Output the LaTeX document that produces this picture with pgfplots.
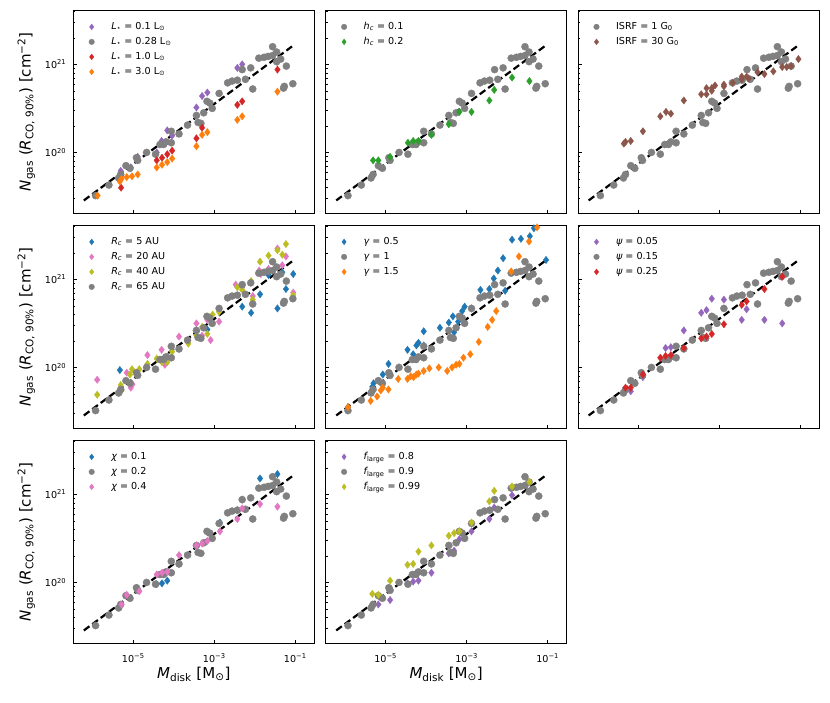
\documentclass[border=0pt]{standalone}
\usepackage{fontspec}
\setmainfont{DejaVu Sans}
\usepackage{pgfplots}
\usepackage{pgfplotstable}
\pgfplotsset{compat=1.18}
\usepgfplotslibrary{groupplots}

\definecolor{mgray}{HTML}{808080}
\definecolor{tpurple}{HTML}{9467BD}
\definecolor{tred}{HTML}{D62728}
\definecolor{torange}{HTML}{FF7F0E}
\definecolor{tgreen}{HTML}{2CA02C}
\definecolor{tbrown}{HTML}{8C564B}
\definecolor{tblue}{HTML}{1F77B4}
\definecolor{tpink}{HTML}{E377C2}
\definecolor{tolive}{HTML}{BCBD22}

% reference set (grey circles), same in every panel
\pgfplotstableread{
x y
1.175e-6 3.236e19
2.512e-6 4.266e19
4.365e-6 5.129e19
4.898e-6 5.623e19
6.607e-6 7.079e19
8.318e-6 6.607e19
1.202e-5 8.710e19
1.288e-5 8.128e19
2.138e-5 1.000e20
3.548e-5 9.550e19
4.571e-5 1.230e20
5.623e-5 1.230e20
6.457e-5 1.318e20
8.710e-5 1.288e20
8.710e-5 1.738e20
1.349e-4 1.622e20
2.188e-4 2.042e20
3.631e-4 2.630e20
3.981e-4 2.188e20
4.677e-4 2.138e20
5.495e-4 2.818e20
6.607e-4 3.802e20
7.762e-4 3.631e20
8.913e-4 3.162e20
1.318e-3 4.677e20
2.138e-3 6.166e20
2.754e-3 6.457e20
3.715e-3 6.607e20
4.898e-3 8.710e20
5.888e-3 6.761e20
7.943e-3 9.120e20
8.913e-3 5.248e20
1.259e-2 1.175e21
1.698e-2 1.202e21
2.138e-2 1.230e21
2.754e-2 1.585e21
2.754e-2 1.259e21
3.467e-2 1.380e21
3.467e-2 1.072e21
4.365e-2 1.148e21
6.026e-2 9.550e20
5.370e-2 5.623e20
5.129e-2 5.370e20
8.710e-2 6.026e20
}\tG

% panel 1: L_star
\pgfplotstableread{
x y
4.898e-6 6.166e19
8.710e-6 6.761e19
1.288e-5 8.913e19
3.802e-5 1.000e20
5.012e-5 1.349e20
6.918e-5 1.778e20
9.120e-5 1.549e20
3.631e-4 3.236e20
5.012e-4 4.365e20
6.761e-4 4.786e20
3.715e-3 9.120e20
4.898e-3 1.000e21
3.631e-2 1.072e21
}\tLa
\pgfplotstableread{
x y
5.012e-6 3.981e19
3.802e-5 8.128e19
5.129e-5 8.710e19
6.918e-5 9.550e19
9.120e-5 1.047e20
3.631e-4 1.445e20
5.012e-4 1.905e20
3.715e-3 3.467e20
4.898e-3 3.802e20
3.631e-2 8.710e20
}\tLc
\pgfplotstableread{
x y
1.318e-6 3.236e19
4.677e-6 4.677e19
5.129e-6 5.012e19
6.918e-6 5.248e19
9.333e-6 5.370e19
1.288e-5 5.623e19
3.802e-5 6.761e19
5.129e-5 7.244e19
6.918e-5 7.762e19
9.120e-5 8.511e19
3.631e-4 1.175e20
5.012e-4 1.585e20
6.761e-4 1.698e20
3.715e-3 2.344e20
4.898e-3 2.570e20
3.631e-2 4.898e20
}\tLd

% panel 2: h_c = 0.2
\pgfplotstableread{
x y
4.898e-6 8.128e19
6.607e-6 8.128e19
1.288e-5 8.913e19
3.548e-5 1.288e20
4.786e-5 1.349e20
6.457e-5 1.349e20
1.349e-4 1.585e20
3.631e-4 2.089e20
6.607e-4 2.884e20
1.318e-3 2.884e20
3.631e-3 3.890e20
4.786e-3 5.129e20
1.318e-2 7.079e20
3.548e-2 6.457e20
}\tH

% panel 3: ISRF = 30
\pgfplotstableread{
x y
4.467e-6 1.259e20
4.898e-6 1.318e20
6.607e-6 1.349e20
1.318e-5 1.738e20
3.548e-5 2.570e20
4.898e-5 2.884e20
6.457e-5 2.754e20
1.349e-4 3.890e20
3.631e-4 4.571e20
4.898e-4 5.370e20
4.898e-4 4.571e20
6.607e-4 5.012e20
6.607e-4 5.370e20
7.943e-4 5.754e20
1.318e-3 5.888e20
1.318e-3 5.623e20
2.188e-3 6.166e20
3.631e-3 7.244e20
3.631e-3 6.761e20
4.786e-3 7.244e20
5.370e-3 6.918e20
8.913e-3 8.128e20
1.318e-2 7.762e20
2.188e-2 8.318e20
3.631e-2 9.333e20
4.677e-2 9.333e20
6.026e-2 9.550e20
9.120e-2 1.148e21
}\tI

% panel 4: R_c
\pgfplotstableread{
x y
4.677e-6 9.333e19
6.761e-4 2.692e20
4.898e-3 4.898e20
8.128e-3 4.169e20
1.349e-2 6.761e20
2.188e-2 1.122e21
3.631e-2 4.677e20
4.786e-2 1.202e21
5.888e-2 7.762e20
8.913e-2 1.148e21
}\tRa
\pgfplotstableread{
x y
1.288e-6 7.244e19
4.898e-6 5.370e19
6.918e-6 8.710e19
8.710e-6 5.888e19
9.550e-6 6.457e19
1.259e-5 8.318e19
2.239e-5 1.380e20
5.012e-5 1.585e20
6.026e-5 1.072e20
6.918e-5 1.318e20
1.349e-4 2.239e20
3.631e-4 3.162e20
5.012e-4 2.291e20
6.761e-4 3.467e20
8.128e-4 2.042e20
1.318e-3 3.311e20
3.388e-3 8.710e20
4.898e-3 8.128e20
8.913e-3 6.457e20
1.288e-2 1.259e21
1.413e-2 1.148e21
2.188e-2 1.318e21
3.631e-2 2.239e21
4.786e-2 1.445e21
5.888e-2 1.820e21
8.913e-2 7.079e20
}\tRb
\pgfplotstableread{
x y
1.288e-6 4.898e19
4.898e-6 6.310e19
5.129e-6 5.495e19
8.318e-6 8.318e19
9.333e-6 9.550e19
1.413e-5 9.550e19
2.239e-5 1.096e20
3.802e-5 1.259e20
5.129e-5 1.148e20
6.918e-5 1.148e20
9.120e-5 1.514e20
1.349e-4 1.622e20
2.291e-4 1.862e20
3.631e-4 2.291e20
5.012e-4 2.884e20
6.761e-4 2.399e20
9.120e-4 3.981e20
1.318e-3 4.266e20
3.715e-3 8.128e20
4.898e-3 7.586e20
8.913e-3 5.888e20
8.128e-3 9.550e20
1.349e-2 1.585e21
2.188e-2 1.862e21
3.631e-2 2.138e21
4.786e-2 1.905e21
5.888e-2 2.512e21
8.913e-2 6.607e20
}\tRc

% panel 5: gamma
\pgfplotstableread{
x y
1.175e-6 3.548e19
4.677e-6 6.026e19
5.012e-6 6.607e19
8.511e-6 8.318e19
1.175e-5 1.096e20
2.138e-5 1.000e20
3.467e-5 1.585e20
4.786e-5 1.413e20
5.754e-5 1.778e20
6.457e-5 1.905e20
8.710e-5 1.778e20
8.710e-5 2.570e20
2.188e-4 2.818e20
3.631e-4 3.236e20
4.571e-4 3.802e20
4.898e-4 2.512e20
6.166e-4 3.311e20
7.762e-4 4.365e20
8.913e-4 4.898e20
1.318e-3 4.677e20
2.188e-3 7.586e20
3.631e-3 7.762e20
4.677e-3 1.023e21
5.888e-3 1.259e21
7.943e-3 1.738e21
8.913e-3 7.413e20
1.318e-2 2.818e21
2.188e-2 2.884e21
3.631e-2 3.090e21
4.571e-2 3.802e21
9.120e-2 1.660e21
}\tGa
\pgfplotstableread{
x y
1.175e-6 3.548e19
4.266e-6 4.169e19
6.166e-6 4.677e19
7.586e-6 5.495e19
8.511e-6 5.888e19
1.175e-5 5.623e19
2.042e-5 7.413e19
3.467e-5 7.413e19
4.169e-5 7.943e19
4.898e-5 7.762e19
5.754e-5 8.318e19
6.457e-5 8.511e19
8.710e-5 9.120e19
1.202e-4 9.772e19
2.042e-4 1.000e20
3.311e-4 9.120e19
4.365e-4 1.000e20
5.495e-4 1.072e20
6.607e-4 1.096e20
8.318e-4 1.288e20
1.230e-3 1.413e20
1.995e-3 1.950e20
3.311e-3 2.884e20
4.266e-3 3.467e20
5.370e-3 4.365e20
1.259e-2 1.230e21
1.950e-2 1.820e21
3.467e-2 2.692e21
5.495e-2 3.890e21
8.318e-2 4.467e21
}\tGc

% panel 6: psi
\pgfplotstableread{
x y
4.898e-6 5.370e19
6.607e-6 5.370e19
1.318e-5 7.762e19
4.786e-5 1.660e20
6.457e-5 1.698e20
1.349e-4 2.630e20
3.631e-4 4.169e20
4.898e-4 4.467e20
6.607e-4 6.026e20
1.318e-3 5.888e20
3.631e-3 3.467e20
4.786e-3 4.571e20
1.318e-2 3.467e20
3.631e-2 3.162e20
}\tPa
\pgfplotstableread{
x y
4.898e-6 5.888e19
6.607e-6 5.888e19
1.318e-5 8.318e19
3.548e-5 1.288e20
4.786e-5 1.349e20
6.457e-5 1.380e20
1.349e-4 1.660e20
3.631e-4 2.138e20
4.898e-4 2.239e20
6.607e-4 2.399e20
1.318e-3 3.090e20
3.631e-3 5.129e20
4.786e-3 5.623e20
1.318e-2 7.762e20
3.631e-2 1.072e21
}\tPc

% panel 7: chi
\pgfplotstableread{
x y
3.802e-5 9.550e19
5.129e-5 9.772e19
6.918e-5 1.047e20
1.349e-4 1.622e20
6.761e-4 3.715e20
1.380e-3 4.786e20
3.715e-3 6.607e20
4.898e-3 8.710e20
1.349e-2 1.514e21
3.631e-2 1.698e21
}\tCa
\pgfplotstableread{
x y
5.129e-6 5.623e19
6.918e-6 7.244e19
1.413e-5 7.943e19
3.802e-5 1.230e20
5.129e-5 1.288e20
6.918e-5 1.318e20
1.349e-4 2.042e20
3.631e-4 2.630e20
5.012e-4 2.754e20
6.761e-4 2.951e20
1.380e-3 3.802e20
3.715e-3 5.248e20
4.898e-3 6.918e20
1.349e-2 7.762e20
3.631e-2 7.244e20
}\tCc

% panel 8: f_large
\pgfplotstableread{
x y
4.677e-6 5.623e19
6.607e-6 5.623e19
1.288e-5 6.310e19
3.467e-5 9.772e19
4.786e-5 1.023e20
6.457e-5 1.047e20
1.349e-4 1.288e20
3.631e-4 2.138e20
4.898e-4 2.291e20
6.607e-4 3.090e20
1.318e-3 3.802e20
3.631e-3 5.248e20
4.786e-3 7.079e20
1.318e-2 9.772e20
3.548e-2 1.096e21
}\tFa
\pgfplotstableread{
x y
4.677e-6 7.413e19
6.607e-6 7.244e19
1.288e-5 1.047e20
3.467e-5 1.585e20
4.786e-5 1.622e20
6.457e-5 2.239e20
1.349e-4 2.630e20
3.631e-4 3.388e20
4.898e-4 3.631e20
6.607e-4 3.802e20
1.318e-3 4.786e20
3.631e-3 8.318e20
4.786e-3 1.096e21
1.318e-2 1.230e21
3.548e-2 1.380e21
}\tFc

\pgfplotsset{
  gpt/.style={only marks, mark=*, mark size=3.6pt, color=mgray,
    mark options={fill=mgray, draw=mgray, line width=0.3pt}},
  dia/.style={only marks, mark=diamond*, mark size=3.7pt, color=#1,
    mark options={fill=#1, draw=#1, line width=0.3pt}},
  fitline/.style={black, line width=2.2pt, dash pattern=on 7pt off 3.5pt, forget plot},
}

\newcommand{\fitl}{\addplot[fitline] coordinates {(6.026e-7,2.851e19) (9.772e-2,1.687e21)};}
\newcommand{\refset}{\addplot[gpt] table[x=x,y=y] {\tG};}

\begin{document}
\begin{tikzpicture}
\begin{groupplot}[
  group style={group size=3 by 3, horizontal sep=11.4pt, vertical sep=11.5pt,
    xticklabels at=edge bottom, yticklabels at=edge left,
    xlabels at=edge bottom, ylabels at=edge left},
  scale only axis, width=241pt, height=203.5pt,
  xmode=log, ymode=log,
  xmin=3.311e-7, xmax=2.951e-1, ymin=2.028e19, ymax=4.140e21,
  xtick={1e-5,1e-3,1e-1},
  xticklabels={10\textsuperscript{−5},10\textsuperscript{−3},10\textsuperscript{−1}},
  ytick={1e20,1e21},
  yticklabels={10\textsuperscript{20},10\textsuperscript{21}},
  xminorticks=false,
  minor ytick={3e19,4e19,5e19,6e19,7e19,8e19,9e19,2e20,3e20,4e20,5e20,6e20,7e20,8e20,9e20,2e21,3e21,4e21},
  tick align=inside, xtick pos=bottom, ytick pos=left,
  major tick length=3.5pt, minor tick length=2pt,
  tick style={black, line width=0.8pt},
  minor tick style={black, line width=0.6pt},
  axis line style={line width=0.9pt},
  tick label style={font=\fontsize{9.6}{11}\selectfont},
  xticklabel style={anchor=base, yshift=-19pt},
  yticklabel style={anchor=east, xshift=-3.5pt},
  xlabel={{\itshape M}\textsubscript{disk} [M\textsubscript{⊙}]},
  ylabel={{\itshape N}\textsubscript{gas} ({\itshape R}\textsubscript{CO, 90\%}) [cm\textsuperscript{−2}]},
  every axis x label/.style={at={(axis description cs:0.5,0)}, anchor=base, yshift=-35pt, font=\fontsize{15}{18}\selectfont},
  every axis y label/.style={at={(axis description cs:0,0.5)}, xshift=-47pt, rotate=90, anchor=center, font=\fontsize{15}{18}\selectfont},
  legend style={at={(0,1)}, anchor=north west, xshift=8.4pt, yshift=-9.2pt,
    draw=none, fill=none, inner sep=0pt,
    nodes={inner sep=2pt, text height=8pt, text depth=3pt},
    font=\fontsize{9.6}{11}\selectfont, /tikz/column sep=0pt, /tikz/row sep=0pt},
  legend cell align=left,
  legend image code/.code={\path (0pt,0pt) (27pt,0pt); \draw[#1, every mark/.append style={scale=0.78}] plot coordinates {(9.6pt,0pt)};},
]
% ---- panel 1
\nextgroupplot
\addplot[dia=tpurple] table[x=x,y=y] {\tLa}; \addlegendentry{{\itshape L}\textsubscript{⋆} = 0.1 L\textsubscript{⊙}}
\refset \addlegendentry{{\itshape L}\textsubscript{⋆} = 0.28 L\textsubscript{⊙}}
\addplot[dia=tred] table[x=x,y=y] {\tLc}; \addlegendentry{{\itshape L}\textsubscript{⋆} = 1.0 L\textsubscript{⊙}}
\addplot[dia=torange] table[x=x,y=y] {\tLd}; \addlegendentry{{\itshape L}\textsubscript{⋆} = 3.0 L\textsubscript{⊙}}
\fitl
% ---- panel 2
\nextgroupplot
\refset \addlegendentry{{\itshape h}\textsubscript{\itshape c} = 0.1}
\addplot[dia=tgreen] table[x=x,y=y] {\tH}; \addlegendentry{{\itshape h}\textsubscript{\itshape c} = 0.2}
\fitl
% ---- panel 3
\nextgroupplot
\refset \addlegendentry{ISRF = 1 G\textsubscript{0}}
\addplot[dia=tbrown] table[x=x,y=y] {\tI}; \addlegendentry{ISRF = 30 G\textsubscript{0}}
\fitl
% ---- panel 4
\nextgroupplot
\addplot[dia=tblue] table[x=x,y=y] {\tRa}; \addlegendentry{{\itshape R}\textsubscript{\itshape c} = 5 AU}
\addplot[dia=tpink] table[x=x,y=y] {\tRb}; \addlegendentry{{\itshape R}\textsubscript{\itshape c} = 20 AU}
\addplot[dia=tolive] table[x=x,y=y] {\tRc}; \addlegendentry{{\itshape R}\textsubscript{\itshape c} = 40 AU}
\refset \addlegendentry{{\itshape R}\textsubscript{\itshape c} = 65 AU}
\fitl
% ---- panel 5
\nextgroupplot
\addplot[dia=tblue] table[x=x,y=y] {\tGa}; \addlegendentry{{\itshape γ} = 0.5}
\refset \addlegendentry{{\itshape γ} = 1}
\addplot[dia=torange] table[x=x,y=y] {\tGc}; \addlegendentry{{\itshape γ} = 1.5}
\fitl
% ---- panel 6
\nextgroupplot
\addplot[dia=tpurple] table[x=x,y=y] {\tPa}; \addlegendentry{{\itshape ψ} = 0.05}
\refset \addlegendentry{{\itshape ψ} = 0.15}
\addplot[dia=tred] table[x=x,y=y] {\tPc}; \addlegendentry{{\itshape ψ} = 0.25}
\fitl
% ---- panel 7
\nextgroupplot
\addplot[dia=tblue] table[x=x,y=y] {\tCa}; \addlegendentry{{\itshape χ} = 0.1}
\refset \addlegendentry{{\itshape χ} = 0.2}
\addplot[dia=tpink] table[x=x,y=y] {\tCc}; \addlegendentry{{\itshape χ} = 0.4}
\fitl
% ---- panel 8
\nextgroupplot
\addplot[dia=tpurple] table[x=x,y=y] {\tFa}; \addlegendentry{{\itshape f}\textsubscript{large} = 0.8}
\refset \addlegendentry{{\itshape f}\textsubscript{large} = 0.9}
\addplot[dia=tolive] table[x=x,y=y] {\tFc}; \addlegendentry{{\itshape f}\textsubscript{large} = 0.99}
\fitl
\end{groupplot}
\pgfresetboundingbox
\path (group c1r1.north west) ++(-73.3pt,10pt) rectangle ++(830pt,-702pt);
\end{tikzpicture}
\end{document}
